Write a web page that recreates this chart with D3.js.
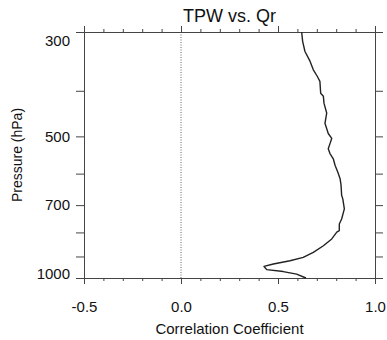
<!DOCTYPE html>
<html>
<head>
<meta charset="utf-8">
<script src="https://cdn.jsdelivr.net/npm/d3@7"></script>
<style>
  body { margin: 0; background: #fff; }
  text { font-family: "Liberation Sans", Arial, Helvetica, sans-serif; fill: #111; }
</style>
</head>
<body>
<div id="chart"></div>
<script>
// correlation profile, TPW vs Qr
const pressure = [300, 314, 330, 346, 361, 373, 382, 405, 411, 425, 446, 469, 493, 505, 518, 531,
  544, 558, 576, 595, 615, 635, 667, 679, 713, 749, 768, 793, 799, 826, 854, 882, 904, 919,
  934, 945, 960, 969, 981, 1000];
const corr = [0.622, 0.627, 0.639, 0.665, 0.682, 0.703, 0.716, 0.720, 0.734, 0.737, 0.751, 0.742,
  0.759, 0.777, 0.768, 0.759, 0.768, 0.785, 0.794, 0.808, 0.820, 0.825, 0.828, 0.834, 0.842,
  0.828, 0.816, 0.816, 0.803, 0.777, 0.734, 0.682, 0.630, 0.562, 0.476, 0.428, 0.442, 0.527,
  0.596, 0.644];

const xMajor = [-0.5, 0, 0.5, 1.0];
const xMinor = [-0.4, -0.3, -0.2, -0.1, 0.1, 0.2, 0.3, 0.4, 0.6, 0.7, 0.8, 0.9];
const yMajor = [300, 500, 700, 1000];
const yMinor = [400, 600, 800, 900];

const width = 387, height = 340;
const margin = { top: 32, right: 12, bottom: 62, left: 84 };

const svg = d3.select("#chart").append("svg")
    .attr("width", width)
    .attr("height", height);

const x = d3.scaleLinear().domain([-0.5, 1.0]).range([margin.left, width - margin.right]);
const y = d3.scaleLog().domain([300, 1000]).range([margin.top, height - margin.bottom]);

const axisColor = "#444";

// zero line
svg.append("line")
    .attr("x1", x(0)).attr("x2", x(0))
    .attr("y1", y(300)).attr("y2", y(1000))
    .attr("stroke", "#666")
    .attr("stroke-width", 1)
    .attr("stroke-dasharray", "1,1.5");

// axes - ticks point outward
const xAxisBottom = d3.axisBottom(x).tickValues(xMajor).tickSize(6).tickPadding(17)
    .tickFormat(d => d.toFixed(1));
const xAxisBottomMinor = d3.axisBottom(x).tickValues(xMinor).tickSize(3).tickFormat("");
const xAxisTop = d3.axisTop(x).tickValues(xMajor).tickSize(6).tickFormat("");
const xAxisTopMinor = d3.axisTop(x).tickValues(xMinor).tickSize(3).tickFormat("");
const yAxisLeft = d3.axisLeft(y).tickValues(yMajor.concat(yMinor)).tickSize(8).tickPadding(6)
    .tickFormat(d => yMajor.includes(d) ? d : "");
const yAxisRight = d3.axisRight(y).tickValues(yMajor.concat(yMinor)).tickSize(8).tickFormat("");

function styleAxis(g) {
    g.selectAll("path, line").attr("stroke", axisColor).attr("stroke-width", 1);
    g.selectAll("text").style("font-size", "15px").attr("fill", "#111");
}

svg.append("g").attr("transform", `translate(0,${y(1000)})`).call(xAxisBottom).call(styleAxis);
svg.append("g").attr("transform", `translate(0,${y(1000)})`).call(xAxisBottomMinor).call(styleAxis)
    .select(".domain").remove();
svg.append("g").attr("transform", `translate(0,${y(300)})`).call(xAxisTop).call(styleAxis);
svg.append("g").attr("transform", `translate(0,${y(300)})`).call(xAxisTopMinor).call(styleAxis)
    .select(".domain").remove();
const gl = svg.append("g").attr("transform", `translate(${x(-0.5)},0)`).call(yAxisLeft).call(styleAxis);
svg.append("g").attr("transform", `translate(${x(1.0)},0)`).call(yAxisRight).call(styleAxis);

// end labels pulled inward like NCL does
gl.selectAll(".tick text")
    .attr("dy", d => d === 300 ? "0.9em" : d === 1000 ? "0.05em" : "0.32em");

// profile
svg.append("path")
    .datum(pressure.map((p, i) => [corr[i], p]))
    .attr("fill", "none")
    .attr("stroke", "#222")
    .attr("stroke-width", 1.4)
    .attr("stroke-linejoin", "round")
    .attr("d", d3.line().x(d => x(d[0])).y(d => y(d[1])));

// titles
svg.append("text")
    .attr("x", (x(-0.5) + x(1.0)) / 2)
    .attr("y", 22)
    .attr("text-anchor", "middle")
    .style("font-size", "18px")
    .text("TPW vs. Qr");

svg.append("text")
    .attr("x", (x(-0.5) + x(1.0)) / 2)
    .attr("y", 334)
    .attr("text-anchor", "middle")
    .style("font-size", "15px")
    .text("Correlation Coefficient");

svg.append("text")
    .attr("transform", `translate(22,${(y(300) + y(1000)) / 2}) rotate(-90)`)
    .attr("text-anchor", "middle")
    .style("font-size", "14px")
    .text("Pressure (hPa)");
</script>
</body>
</html>
